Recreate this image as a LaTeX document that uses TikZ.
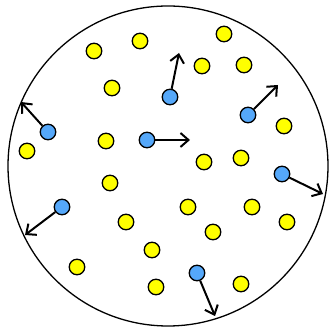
\documentclass[tikz,border=0pt]{standalone}
\usetikzlibrary{arrows.meta}
\definecolor{dotyellow}{RGB}{255,255,0}
\definecolor{dotblue}{RGB}{85,168,250}
\begin{document}
\begin{tikzpicture}[x=1pt,y=-1pt,
  ydot/.style={circle,draw=black,line width=1.3pt,fill=dotyellow,minimum size=15.5pt,inner sep=0pt},
  bdot/.style={circle,draw=black,line width=1.3pt,fill=dotblue,minimum size=15.5pt,inner sep=0pt},
  vel/.style={line width=2pt,-{Straight Barb[length=8pt,width=14pt,line width=2pt]}}]
\useasboundingbox (0,0) rectangle (330,328);
\node[circle,draw=black,line width=1.3pt,minimum size=320pt,inner sep=0pt] (box) at (168,166) {};
% yellow dots
\foreach \i/\x/\y in {1/94/51,2/140/41,3/112/88,4/27/151,5/106/141,6/224/34,7/202/66,8/244/65,9/284/126,10/204/162,11/241/158,12/110/183,13/126/222,14/152/250,15/77/267,16/156/287,17/188/207,18/252/207,19/287/222,20/213/232,21/241/284}
  \node[ydot] (y\i) at (\x,\y) {};
% blue dots and velocity tips
\foreach \i/\x/\y/\tx/\ty in {1/48/132/21/102,2/147/140/190/140,3/170/97/179/53,4/248/115/278/85,5/282/174/323/194,6/62/207/25/235,7/197/273/215/316}{
  \node[bdot] (b\i) at (\x,\y) {};
  \coordinate (t\i) at (\tx,\ty);
  \draw[vel] (b\i) -- (t\i);
}
\end{tikzpicture}
\end{document}
